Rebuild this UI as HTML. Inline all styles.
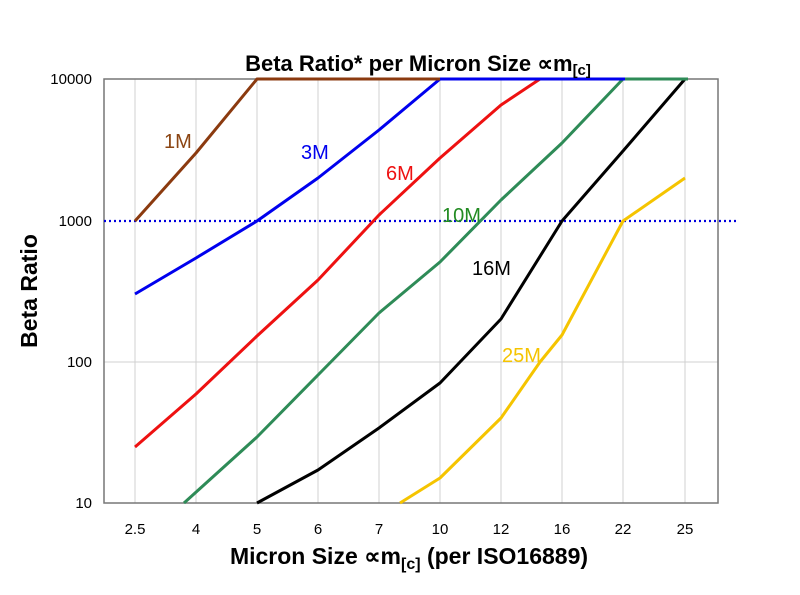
<!DOCTYPE html>
<html><head><meta charset="utf-8"><style>body{margin:0;background:#fff}svg{display:block}</style></head><body>
<svg width="800" height="595" viewBox="0 0 800 595" font-family="Liberation Sans, Arial, sans-serif">
<rect width="800" height="595" fill="#fff"/>
<g stroke="#d0d0d0" stroke-width="1">
<line x1="135" y1="79" x2="135" y2="503"/><line x1="196" y1="79" x2="196" y2="503"/><line x1="257" y1="79" x2="257" y2="503"/><line x1="318" y1="79" x2="318" y2="503"/><line x1="379" y1="79" x2="379" y2="503"/><line x1="440" y1="79" x2="440" y2="503"/><line x1="501" y1="79" x2="501" y2="503"/><line x1="562" y1="79" x2="562" y2="503"/><line x1="623" y1="79" x2="623" y2="503"/><line x1="685" y1="79" x2="685" y2="503"/>
<line x1="104" y1="362" x2="718" y2="362"/>
</g>
<rect x="104" y="79" width="614" height="424" fill="none" stroke="#777" stroke-width="1.5"/>
<line x1="104" y1="221" x2="737" y2="221" stroke="#0000dd" stroke-width="2.2" stroke-dasharray="2,3"/>
<g fill="none" stroke-width="3" stroke-linejoin="round">
<polyline stroke="#f5c400" points="400,503 440,478 501,418 540,362 562,335 623,221 685,178"/>
<polyline stroke="#000" points="257,503 318,470 379,428 440,383 501,319 562,221 623,151 685,79"/>
<polyline stroke="#ee1111" points="135,447 196,394 257,336 318,280 379,215 440,158 501,105 540,79"/>
<polyline stroke="#2e8b57" points="184,503 257,437 318,375 379,313 440,262 501,200 562,143 623,79 688,79"/>
<polyline stroke="#0000ee" points="135,294 196,258 257,221 318,178 379,130 440,79 625,79"/>
<polyline stroke="#8b3a0f" points="135,221 196,153 257,79 440,79"/>
</g>
<g font-size="20">
<text x="164" y="148" fill="#8b4513">1M</text>
<text x="301" y="159" fill="#0000ee">3M</text>
<text x="386" y="180" fill="#ee1111">6M</text>
<text x="442" y="222" fill="#228b22">10M</text>
<text x="472" y="275" fill="#000">16M</text>
<text x="502" y="362" fill="#f5c400">25M</text>
</g>
<g font-size="15" text-anchor="end" fill="#000">
<text x="92" y="84">10000</text><text x="92" y="226">1000</text><text x="92" y="367">100</text><text x="92" y="508">10</text>
</g>
<g font-size="15" text-anchor="middle" fill="#000">
<text x="135" y="534">2.5</text><text x="196" y="534">4</text><text x="257" y="534">5</text><text x="318" y="534">6</text><text x="379" y="534">7</text><text x="440" y="534">10</text><text x="501" y="534">12</text><text x="562" y="534">16</text><text x="623" y="534">22</text><text x="685" y="534">25</text>
</g>
<text x="418" y="71" font-size="22" font-weight="bold" text-anchor="middle">Beta Ratio* per Micron Size ∝m<tspan font-size="15" dy="4">[c]</tspan></text>
<text x="409" y="564" font-size="23" font-weight="bold" text-anchor="middle">Micron Size ∝m<tspan font-size="16" dy="5">[c]</tspan><tspan dy="-5"> (per ISO16889)</tspan></text>
<text transform="translate(37,291) rotate(-90)" font-size="23" font-weight="bold" text-anchor="middle">Beta Ratio</text>
</svg>
</body></html>
